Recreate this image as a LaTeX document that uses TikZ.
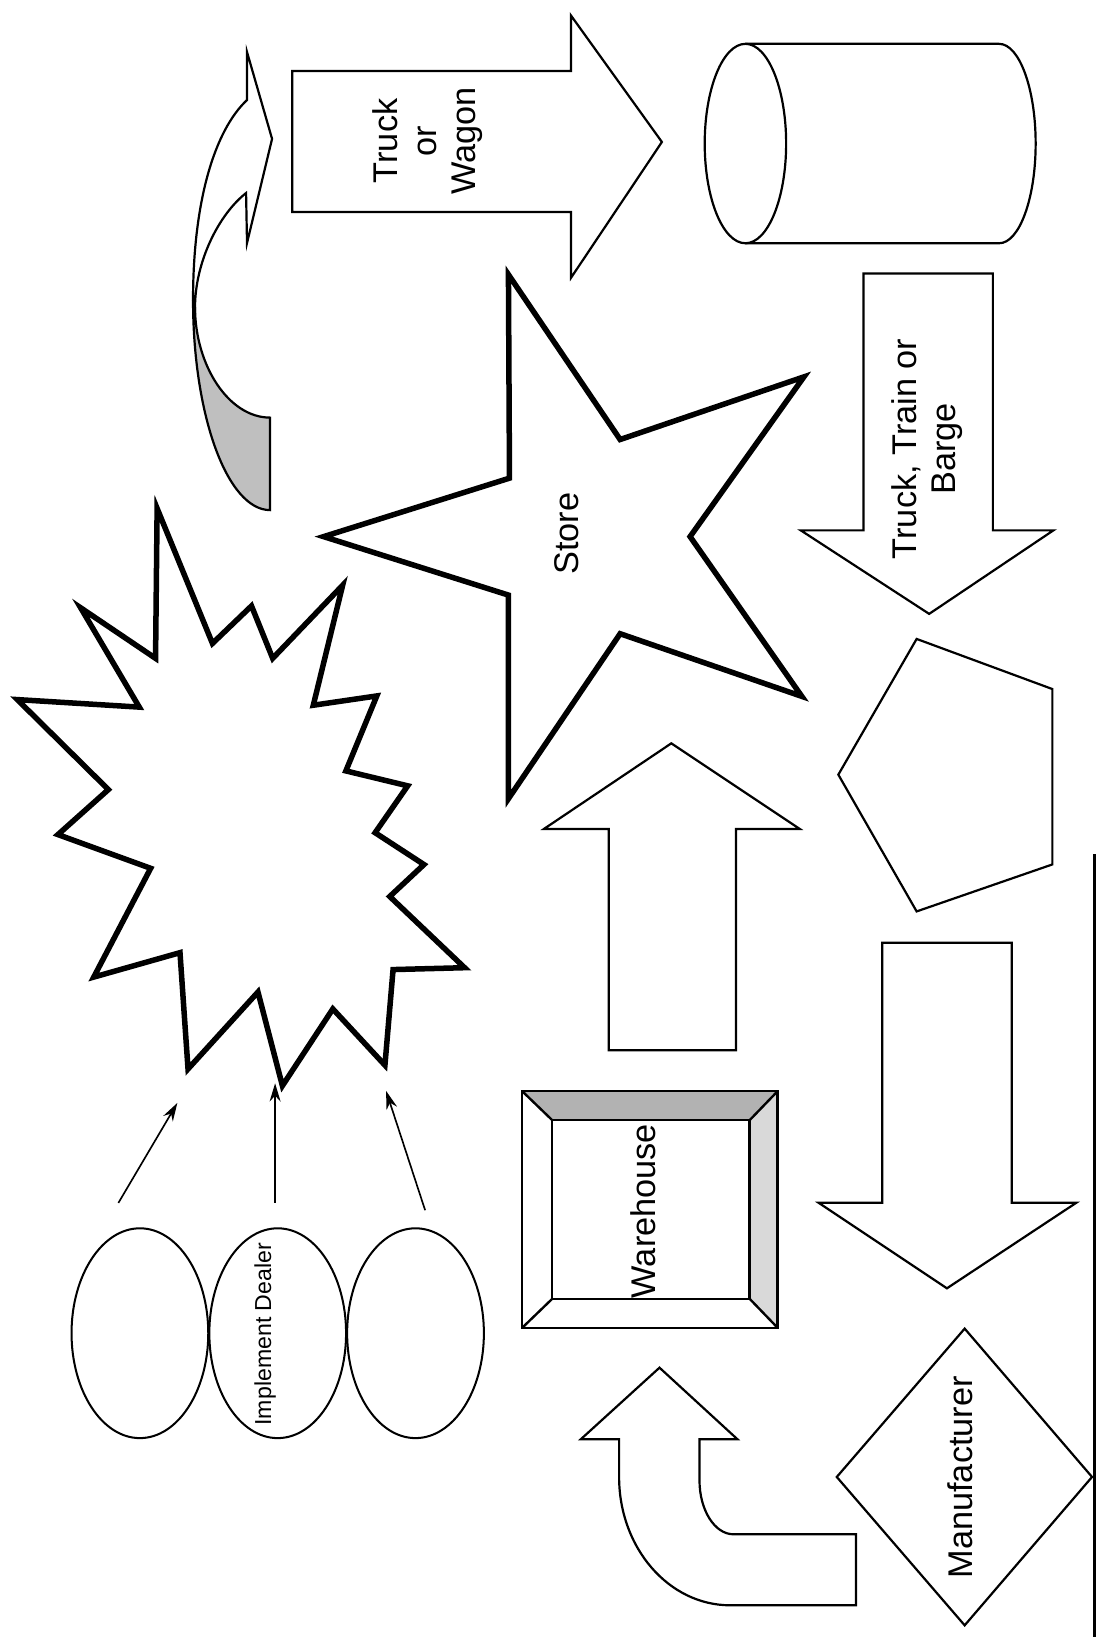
\documentclass[tikz,border=0pt]{standalone}
\usepackage{fontspec}
\setmainfont{Liberation Sans}
\usetikzlibrary{shapes.geometric,arrows.meta}

\tikzset{
  thinshape/.style={draw=black, line width=1.2pt, line join=miter},
  thickshape/.style={draw=black, line width=3pt, line join=miter},
  bigtext/.style={font=\fontsize{18.7}{21.3}\selectfont, align=center, rotate=90, inner sep=0pt},
  smalltext/.style={font=\fontsize{12.6}{14}\selectfont, rotate=90, inner sep=0pt},
  pointer/.style={draw=black, line width=0.9pt, -{Stealth[length=10pt, width=6pt]}},
  dealer/.style={draw=black, line width=1.1pt, ellipse, minimum width=2.62cm, minimum height=4.02cm, inner sep=0pt, outer sep=0pt},
}

\begin{document}
\begin{tikzpicture}[x=0.02cm, y=-0.02cm]
\useasboundingbox (0,0) rectangle (1051,1568);
\fill[white] (0,0) rectangle (1051,1568);

% curved arrow (top left)
\fill[gray!50] (184.9,287.4) .. controls (184.9,398.5) and (217.9,488.6) .. (258.7,488.6)
  -- (258.7,400) .. controls (219,400) and (186.8,350) .. (186.8,294.1) -- cycle;
\draw[thinshape] (184.9,287.4) .. controls (184.9,398.5) and (217.9,488.6) .. (258.7,488.6)
  -- (258.7,400) .. controls (219,400) and (186.8,350) .. (186.8,294.1);
\draw[thinshape, fill=white] (184.9,287.4) .. controls (184.9,191.6) and (206,124.5) .. (236.6,95.8)
  -- (236.6,49.8) -- (260.6,133) -- (236.6,232.8) -- (235.7,184.9)
  .. controls (210,205) and (187,250) .. (186.8,294.1) -- cycle;

% Truck or Wagon arrow
\draw[thinshape] (280,68) -- (547,68) -- (547,15) -- (634,136) -- (547,266) -- (547,203) -- (280,203) -- cycle;
\node[bigtext] (tw) at (410,135) {Truck\\or\\Wagon};

% cylinder
\draw[thinshape] (714,42) -- (957,42) .. controls (976.3,42) and (992,84.8) .. (992,137.5)
  .. controls (992,190.2) and (976.3,233) .. (957,233) -- (714,233);
\draw[thinshape] (714,137.5) ellipse [x radius=39, y radius=95.5];

% Truck, Train or Barge arrow
\draw[thinshape] (827,262) -- (951,262) -- (951,508) -- (1009,508) -- (890,588) -- (767,508) -- (827,508) -- cycle;
\node[bigtext] (ttb) at (888,430) {Truck, Train or\\Barge};

% star
\draw[thickshape] (310,514) -- (488,458) -- (487,263) -- (594,421) -- (770,361) -- (661,514)
  -- (768,667) -- (594,607) -- (487,765) -- (487,570) -- cycle;
\node[bigtext] (store) at (543,511) {Store};

% burst
\draw[thickshape] (150.5,487) -- (203.5,616.3) -- (240.9,580.4) -- (261.2,630.6) -- (328.2,560.6)
  -- (300.1,675.5) -- (360.9,666.6) -- (331.3,738.4) -- (390.5,752.7) -- (359.3,797.6)
  -- (406.1,828.1) -- (373.3,858.7) -- (445,926.9) -- (376.5,928.7) -- (368.7,1020.3)
  -- (318.8,966.4) -- (270.5,1040) -- (247.1,950.2) -- (180.1,1023.9) -- (172.4,912.5)
  -- (89.8,935.9) -- (144.3,831.7) -- (55.5,799.4) -- (103.8,756.3) -- (16.6,670.1)
  -- (133.4,677.3) -- (77.3,582.2) -- (149,630.6) -- cycle;

% pentagon
\draw[thinshape] (803,742) -- (878,612) -- (1008,660) -- (1008,828) -- (878,873) -- cycle;

% up arrow
\draw[thinshape] (583,1006) -- (583,794) -- (521,794) -- (643,712) -- (766,794) -- (705,794) -- (705,1006) -- cycle;

% down arrow (right)
\draw[thinshape] (845,903) -- (969,903) -- (969,1152) -- (1031,1152) -- (907,1234) -- (784,1152) -- (845,1152) -- cycle;

% warehouse bevel box
\fill[gray!60] (500,1045) -- (745,1045) -- (718,1073) -- (529,1073) -- cycle;
\fill[gray!30] (745,1045) -- (745,1272) -- (718,1244) -- (718,1073) -- cycle;
\draw[draw=black, line width=1.6pt] (500,1045) rectangle (745,1272);
\draw[draw=black, line width=1.3pt] (529,1073) rectangle (718,1244);
\draw[draw=black, line width=1.3pt] (500,1045) -- (529,1073) (745,1045) -- (718,1073)
  (745,1272) -- (718,1244) (500,1272) -- (529,1244);
\node[bigtext] (wh) at (616,1160) {Warehouse};

% bent up arrow
\draw[thinshape] (593,1378.6) -- (556.3,1378.6) -- (631.7,1310) -- (706.4,1378.6) -- (670,1378.6)
  -- (670,1417.9) .. controls (670,1446.5) and (684.6,1469.6) .. (702.6,1469.6)
  -- (820,1469.6) -- (820,1537.6) -- (699.3,1537.6)
  .. controls (640.6,1537.6) and (593,1482.6) .. (593,1414.7) -- cycle;

% manufacturer diamond
\draw[thinshape] (924,1272.6) -- (1046,1414.7) -- (924,1556.8) -- (801.5,1414.7) -- cycle;
\node[bigtext] (mfr) at (920,1415) {Manufacturer};

% right edge line
\draw[line width=1.5pt] (1048,818) -- (1048,1568);

% dealers
\node[dealer] (d1) at (134,1277) {};
\node[dealer] (d2) at (266,1277) {};
\node[dealer] (d3) at (398,1277) {};
\node[smalltext] (impl) at (254,1278) {Implement Dealer};

% pointers
\coordinate (p1s) at (113.4,1152.2);
\coordinate (p1e) at (169.9,1056.4);
\coordinate (p2s) at (263.5,1152.2);
\coordinate (p2e) at (263.5,1037.6);
\coordinate (p3s) at (407.2,1159.2);
\coordinate (p3e) at (369.8,1044.9);
\draw[pointer] (p1s) -- (p1e);
\draw[pointer] (p2s) -- (p2e);
\draw[pointer] (p3s) -- (p3e);
\end{tikzpicture}
\end{document}
